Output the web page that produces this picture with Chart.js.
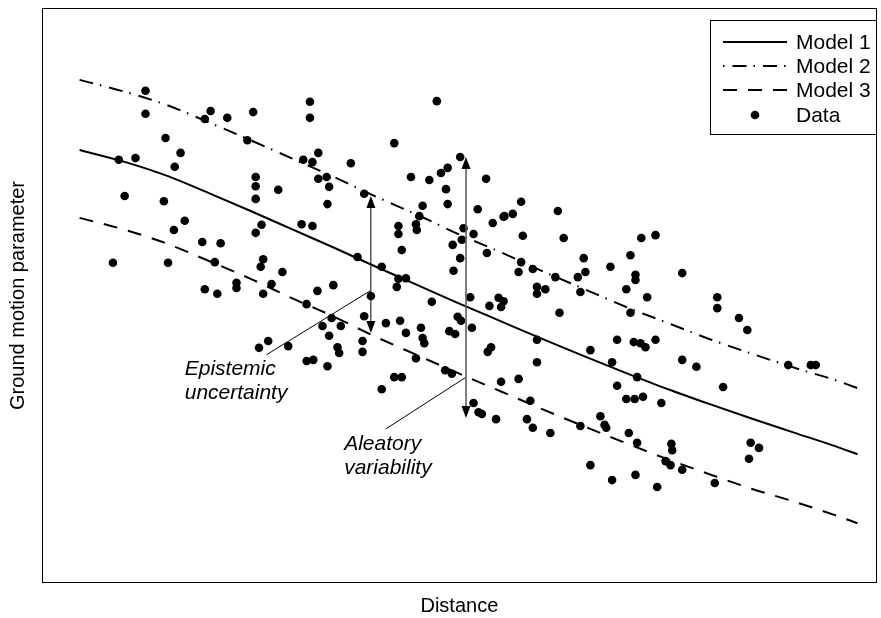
<!DOCTYPE html>
<html><head><meta charset="utf-8">
<script src="https://cdn.jsdelivr.net/npm/chart.js@4"></script>
<style>html,body{margin:0;padding:0;background:#fff}canvas{display:block}</style>
</head><body>
<canvas id="c" width="881" height="618"></canvas>
<script>
// ---- data (x: distance 0-100, y: ground-motion 0-10) ----
const distance = [
 12.4,12.4,20.2,19.5,22.2,25.3,14.8,24.6,31.3,16.6,
 9.2,11.2,15.9,25.6,25.6,28.3,25.6,9.9,14.6,17.1,
 15.8,26.3,25.6,31.1,19.2,21.4,8.5,15.1,20.7,26.5,
 26.2,28.8,19.5,21.0,23.3,23.3,27.5,26.5,26.0,27.1,
 29.5,32.1,32.1,47.3,42.2,32.4,33.1,37.0,50.1,33.1,
 34.1,34.4,34.2,38.6,44.2,46.4,47.8,48.6,48.4,48.6,
 53.2,45.6,45.2,44.8,44.9,42.7,42.7,43.1,52.2,54.0,
 55.3,50.5,50.3,51.7,49.2,50.1,53.3,49.3,32.4,37.8,
 40.7,42.7,43.6,42.5,39.4,31.7,33.0,34.9,46.7,51.3,
 53.6,54.7,55.3,55.0,34.7,33.6,35.8,38.6,41.2,42.9,
 43.6,45.4,45.6,45.8,48.8,49.5,49.8,50.2,51.5,34.4,
 35.4,35.6,38.4,38.4,53.8,53.4,31.7,32.5,34.2,44.8,
 48.3,49.1,42.2,43.1,40.7,55.0,51.7,52.3,52.7,54.4,
 57.4,55.4,56.4,61.8,57.6,62.5,71.8,73.5,57.4,57.1,
 58.8,61.5,64.2,65.1,64.9,68.1,70.5,71.1,71.1,76.7,
 59.3,60.3,59.3,64.5,70.0,72.5,62.0,70.5,59.3,65.7,
 68.9,70.9,71.7,72.3,73.5,59.3,68.3,76.7,78.4,71.3,
 68.9,70.0,71.0,72.0,74.2,57.1,58.5,58.1,58.8,60.9,
 64.5,66.9,67.4,67.6,70.3,71.3,75.4,75.5,74.7,75.3,
 76.7,65.7,68.3,71.1,73.7,80.9,80.9,83.5,84.5,89.4,
 92.1,92.7,81.6,84.9,85.9,84.7,80.6
];
const groundMotion = [
 8.56,8.16,8.21,8.07,8.09,8.19,7.74,7.70,7.36,7.48,
 7.36,7.39,7.24,7.06,6.90,6.84,6.68,6.73,6.64,6.30,
 6.14,6.23,6.09,6.24,5.93,5.91,5.57,5.57,5.58,5.63,
 5.50,5.41,5.11,5.03,5.22,5.13,5.20,5.03,4.09,4.21,
 4.12,8.37,8.09,8.38,7.65,7.32,7.48,7.30,7.41,7.03,
 7.06,6.89,6.59,6.77,7.06,7.01,7.13,7.22,6.85,6.59,
 7.03,6.56,6.38,6.24,6.14,6.21,6.07,5.79,6.50,6.26,
 6.37,6.17,5.97,6.07,5.88,5.65,5.74,5.43,6.21,5.67,
 5.50,5.29,5.30,5.15,4.99,4.85,5.08,5.18,4.89,4.97,
 4.82,4.96,4.90,4.80,4.61,4.47,4.47,4.64,4.52,4.56,
 4.35,4.44,4.26,4.17,4.38,4.33,4.63,4.56,4.44,4.30,
 4.10,4.00,4.21,4.02,4.10,4.02,3.86,3.88,3.77,3.91,
 3.70,3.64,3.58,3.58,3.37,3.50,3.13,2.97,2.94,2.85,
 6.63,6.38,6.42,6.47,6.04,6.00,6.00,6.05,5.58,5.41,
 5.46,5.32,5.32,5.41,5.65,5.50,5.70,5.36,5.27,5.39,
 5.15,5.11,5.03,5.06,5.11,4.97,4.70,4.70,4.23,4.05,
 4.23,4.19,4.17,4.10,4.23,3.84,3.84,3.88,3.76,3.58,
 3.43,3.20,3.20,3.24,3.13,3.55,3.17,2.85,2.70,2.61,
 2.73,2.90,2.75,2.70,2.61,2.44,2.42,2.31,2.12,2.05,
 1.97,2.05,1.79,1.88,1.67,4.97,4.78,4.61,4.40,3.79,
 3.79,3.79,3.41,2.44,2.35,2.16,1.74
];
const modelDistance = [4.5,10,15,20,25,30,35,40,45,50,55,60,65,70,75,80,85,90,95,97.7];
const model1 = [7.53,7.32,7.08,6.78,6.47,6.15,5.83,5.50,5.18,4.86,4.55,4.24,3.94,3.65,3.37,3.11,2.86,2.62,2.38,2.24];
const model2 = [8.75,8.54,8.31,8.01,7.70,7.38,7.06,6.72,6.40,6.06,5.75,5.42,5.11,4.80,4.52,4.24,3.99,3.75,3.53,3.39];
const model3 = [6.35,6.14,5.90,5.60,5.29,4.95,4.63,4.28,3.96,3.64,3.33,3.02,2.72,2.43,2.15,1.89,1.64,1.42,1.18,1.04];
const seriesNames = ['Model 1','Model 2','Model 3','Data'];
const xTitle = 'Distance';
const yTitle = 'Ground motion parameter';
// annotations (data coordinates)
const epistemicArrow = {x: 39.4, top: 6.73, bottom: 4.35};
const aleatoryArrow  = {x: 50.8, top: 7.41, bottom: 2.87};
const epistemicLeader = [[26.9, 3.97], [39.3, 5.08]];
const aleatoryLeader  = [[41.2, 2.68], [50.7, 3.57]];
const epistemicText = {x: 17.1, lines: ['Epistemic', 'uncertainty'], y: [3.62, 3.20]};
const aleatoryText  = {x: 36.2, lines: ['Aleatory', 'variability'], y: [2.31, 1.90]};

const FONT = '"Liberation Sans", Arial, Helvetica, sans-serif';
const pts = (xs, ys) => xs.map((x, i) => ({x, y: ys[i]}));
const DASH2 = [14, 7, 1.5, 8];
const DASH3 = [14, 11];

const overlay = {
  id: 'overlay',
  afterDatasetsDraw(chart) {
    const {ctx, chartArea: a, scales: {x, y}} = chart;
    const X = v => x.getPixelForValue(v), Y = v => y.getPixelForValue(v);
    ctx.save();
    // frame
    ctx.strokeStyle = '#000'; ctx.lineWidth = 1; ctx.setLineDash([]);
    ctx.strokeRect(Math.round(a.left) + 0.5, Math.round(a.top) + 0.5, Math.round(a.right - a.left) - 1, Math.round(a.bottom - a.top) - 1);

    function head(px, py, dir) {
      ctx.beginPath();
      ctx.moveTo(px, py);
      ctx.lineTo(px - 4.5, py + dir * 12);
      ctx.lineTo(px + 4.5, py + dir * 12);
      ctx.closePath();
      ctx.fillStyle = '#000';
      ctx.fill();
    }
    function arrow(arr, color, lw) {
      const px = X(arr.x), t = Y(arr.top), b = Y(arr.bottom);
      ctx.beginPath();
      ctx.moveTo(px, t + 6); ctx.lineTo(px, b - 6);
      ctx.strokeStyle = color; ctx.lineWidth = lw; ctx.stroke();
      head(px, t, 1); head(px, b, -1);
    }
    arrow(epistemicArrow, '#000', 1);
    arrow(aleatoryArrow, '#5e5e5e', 1.6);

    function leader(seg) {
      ctx.beginPath();
      ctx.moveTo(X(seg[0][0]), Y(seg[0][1]));
      ctx.lineTo(X(seg[1][0]), Y(seg[1][1]));
      ctx.strokeStyle = '#000'; ctx.lineWidth = 1; ctx.stroke();
    }
    leader(epistemicLeader);
    leader(aleatoryLeader);

    ctx.fillStyle = '#000';
    ctx.font = 'italic 21px ' + FONT;
    ctx.textAlign = 'left'; ctx.textBaseline = 'alphabetic';
    [epistemicText, aleatoryText].forEach(t => {
      t.lines.forEach((s, i) => ctx.fillText(s, X(t.x), Y(t.y[i])));
    });

    // legend
    const L = 710, T = 20, W = 166, H = 114;
    ctx.fillStyle = '#fff';
    ctx.fillRect(L, T, W, H);
    ctx.strokeStyle = '#000'; ctx.lineWidth = 1;
    ctx.strokeRect(L + 0.5, T + 0.5, W, H);
    const rows = [42, 66, 90, 115];
    const x0 = 723, x1 = 787;
    ctx.lineWidth = 2;
    ctx.setLineDash([]);
    ctx.beginPath(); ctx.moveTo(x0, rows[0]); ctx.lineTo(x1, rows[0]); ctx.stroke();
    ctx.setLineDash(DASH2); ctx.lineDashOffset = 21;
    ctx.beginPath(); ctx.moveTo(x0, rows[1]); ctx.lineTo(x1, rows[1]); ctx.stroke();
    ctx.setLineDash(DASH3); ctx.lineDashOffset = 0;
    ctx.beginPath(); ctx.moveTo(x0, rows[2]); ctx.lineTo(x1, rows[2]); ctx.stroke();
    ctx.setLineDash([]);
    ctx.beginPath(); ctx.arc((x0 + x1) / 2, rows[3], 4.3, 0, Math.PI * 2); ctx.fillStyle = '#000'; ctx.fill();
    ctx.font = '21px ' + FONT;
    ctx.textBaseline = 'middle';
    seriesNames.forEach((n, i) => ctx.fillText(n, 796, rows[i] + 1));
    ctx.restore();
  }
};

new Chart(document.getElementById('c'), {
  type: 'scatter',
  data: {
    datasets: [
      {label: seriesNames[3], data: pts(distance, groundMotion), pointRadius: 4.3, pointHoverRadius: 4.3,
       backgroundColor: '#000', borderWidth: 0, pointBorderWidth: 0},
      {label: seriesNames[0], data: pts(modelDistance, model1), showLine: true, pointRadius: 0,
       borderColor: '#000', borderWidth: 2, cubicInterpolationMode: 'monotone'},
      {label: seriesNames[1], data: pts(modelDistance, model2), showLine: true, pointRadius: 0,
       borderColor: '#000', borderWidth: 2, borderDash: DASH2, cubicInterpolationMode: 'monotone'},
      {label: seriesNames[2], data: pts(modelDistance, model3), showLine: true, pointRadius: 0,
       borderColor: '#000', borderWidth: 2, borderDash: DASH3, cubicInterpolationMode: 'monotone'}
    ]
  },
  options: {
    responsive: false, animation: false, devicePixelRatio: 1,
    layout: {padding: {left: 0, top: 8, right: 2, bottom: 0}},
    plugins: {legend: {display: false}, tooltip: {enabled: false}},
    scales: {
      x: {type: 'linear', min: 0, max: 100,
          ticks: {display: false}, grid: {display: false, drawTicks: false}, border: {display: false},
          title: {display: true, text: xTitle, color: '#000', font: {family: FONT, size: 20}, padding: {top: 0, bottom: 0}},
          afterFit: s => { s.height = 35; }},
      y: {type: 'linear', min: 0, max: 10,
          ticks: {display: false}, grid: {display: false, drawTicks: false}, border: {display: false},
          title: {display: true, text: yTitle, color: '#000', font: {family: FONT, size: 20}, padding: {top: 6, bottom: 0}},
          afterFit: s => { s.width = 42; }}
    }
  },
  plugins: [overlay]
});
</script>
</body></html>
